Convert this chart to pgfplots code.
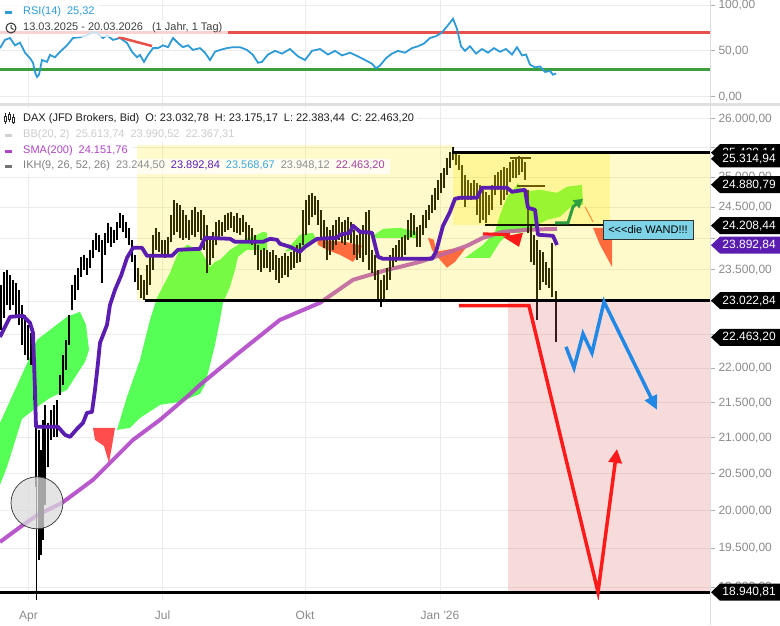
\documentclass[border=0pt]{standalone}
\usepackage{fontspec}
\setmainfont{Liberation Sans}
\usepackage{pgfplots}
\usepackage{pgfplotstable}
\pgfplotsset{compat=1.18}
\usetikzlibrary{arrows.meta}

\definecolor{cloudgreen}{HTML}{55FF55}
\definecolor{cloudred}{HTML}{FF4C4C}
\definecolor{purpleline}{HTML}{5B1DB0}
\definecolor{smacol}{HTML}{B046C6}
\definecolor{rsiblue}{HTML}{2E9BD6}
\definecolor{rsired}{HTML}{E8504A}
\definecolor{rsigreen}{HTML}{3C9E3C}
\definecolor{zoneyellow}{HTML}{FFE800}
\definecolor{zonepink}{HTML}{E07070}
\definecolor{redline}{HTML}{FF1A1A}
\definecolor{blueline}{HTML}{2288E6}
\definecolor{greenarrow}{HTML}{2E9E40}
\definecolor{wandbox}{HTML}{7ED3E6}
\definecolor{ticktext}{HTML}{8A8A8A}
\definecolor{gridcol}{HTML}{EBEBEB}
\definecolor{olive}{HTML}{6B5A00}
\definecolor{ikhblue}{HTML}{3AA7D8}
\definecolor{ikhmauve}{HTML}{A2409A}

\newcommand{\lgfont}{\fontsize{11}{13}\selectfont}
\newcommand{\tkfont}{\fontsize{12}{14}\selectfont}

% price tag on the right scale
\newcommand{\pricetag}[3]{%
  \fill[#2] ([xshift=1pt]#1) -- ([xshift=10pt,yshift=8.5pt]#1) -- ([xshift=70pt,yshift=8.5pt]#1)
    -- ([xshift=70pt,yshift=-8.5pt]#1) -- ([xshift=10pt,yshift=-8.5pt]#1) -- cycle;
  \node[anchor=east, text=white, inner sep=0pt, font=\tkfont] at ([xshift=66pt]#1) {#3};}

% daily candles: x position, low, high
\pgfplotstableread{
x lo hi
1 22573 23264
4 22756 23468
7 22955 23499
10 22878 23420
13 22955 23342
16 22756 23295
19 22649 23186
22 22348 22955
25 22199 22802
28 22124 22649
31 22051 22528
34 21539 22348
36 20320 21539
39 19351 21111
41 19416 20830
43 19612 21253
45 20077 21468
48 20594 21210
51 20970 21396
54 21012 21468
57 21012 21539
60 21612 21904
63 21757 22199
66 21977 22423
69 22348 22802
72 22878 23264
75 23032 23420
78 23186 23531
81 23389 23705
84 23499 23736
87 23420 23689
90 23531 23816
93 23689 23976
96 23816 24089
99 23784 24057
102 23295 23976
105 23736 24089
108 23928 24250
111 23864 24186
114 23928 24137
117 23976 24267
120 24169 24414
123 24105 24381
126 24008 24267
129 23896 24169
132 23625 23976
135 23311 23736
138 23186 23531
141 23063 23420
144 23032 23342
147 23109 23578
150 23264 23736
153 23499 24057
156 23816 24169
159 23784 24105
162 23705 23976
165 23689 23976
168 23736 24024
171 23944 24381
174 24057 24627
177 24105 24578
180 24008 24545
183 23976 24463
186 24008 24381
189 23976 24299
192 24057 24463
195 24024 24512
198 24105 24430
201 23976 24463
204 23816 24381
207 23452 24218
210 23578 24024
213 23689 24105
216 23896 24267
219 24008 24299
222 24040 24267
225 24105 24381
228 24137 24414
231 24169 24430
234 24105 24365
237 24089 24414
240 24057 24332
243 24105 24381
246 23976 24267
249 23976 24218
252 23896 24169
255 23736 24057
258 23499 23896
261 23468 23816
264 23531 23848
267 23531 23816
270 23468 23784
273 23499 23816
276 23342 23736
279 23295 23689
282 23373 23721
285 23420 23768
288 23389 23721
291 23499 23784
294 23531 23816
297 23610 23896
300 23625 23928
303 23896 24463
306 24057 24627
309 24218 24710
312 24348 24743
315 24381 24694
318 24218 24627
321 23976 24463
324 23848 24299
327 23657 24186
330 23736 24137
333 23816 24218
336 23896 24299
339 23976 24348
342 23928 24267
345 23896 24299
348 23976 24348
351 23928 24267
354 23736 24137
357 23657 24057
360 23689 24105
363 23625 24218
366 23736 24430
369 23499 24463
372 23452 23816
375 23342 23736
378 23032 23499
381 22924 23342
384 23032 23420
387 23186 23531
390 23342 23736
393 23547 23848
396 23625 23896
399 23657 23976
402 23705 24024
405 23736 24057
408 23976 24299
411 24024 24414
414 24057 24381
417 23864 24186
420 23864 24218
423 24057 24381
426 24169 24463
429 24299 24545
432 24414 24710
435 24463 24826
438 24627 24959
441 24743 25076
444 24826 25161
447 25043 25330
450 25161 25432
453 25296 25508
456 25211 25415
459 25127 25381
462 24627 25211
465 24512 25043
468 24627 24959
471 24627 24909
474 24660 24959
477 24381 24909
480 24250 24876
483 24299 24793
486 24250 24760
489 24381 24710
492 24463 24876
495 24710 25043
498 24793 25093
501 24545 25127
504 24627 25178
507 24710 25161
510 24926 25262
513 24993 25296
516 24993 25330
519 25043 25364
522 25093 25330
525 24959 25262
528 24089 24793
531 23625 24218
534 23578 24057
537 22725 23976
540 23186 23816
543 23311 23784
546 23264 23625
549 23217 23531
552 23078 23928
556 22383.44 23175.17
}\candles

\pgfplotstableread{
x y
0 53
5 62
10 64
15 56
20 59
25 48
30 42
33 37
35 27
37 21.5
39 24
42 40
47 38
50 45.5
55 43
60 49
67 56
73 64
80 65
87 67
93 70.6
97 69.5
103 64
107 67
113 62
120 64
127 58.6
132 49
137 43
140 45.5
144 38
148 45.5
153 53
158 53
163 56
168 54
173 64
178 58.6
183 54
188 56
193 51
200 53
205 48
210 40
215 49
220 51
227 53
233 54
240 54
247 51
253 45.5
258 37
262 38
268 46
275 50
282 47
290 52
298 44
305 40
312 50
320 52
328 46
335 50
342 45
350 48
358 44
365 40
372 36
376 31
380 34
386 42
392 47
398 50
405 48
412 53
418 55
424 58
430 64
436 66
442 70
448 78
453 85
457 74
461 55
465 50
470 55
476 47
482 52
488 48
494 53
500 49
506 52
512 46
517 54
522 45
526 46
530 35
535 32
540 33
545 27
550 28
553 24
556 25.32
}\rsi

\begin{document}
\begin{tikzpicture}
\useasboundingbox (0pt,0pt) rectangle (780pt,-625pt);

% ---------------- RSI panel ----------------
\begin{axis}[
  at={(0pt,0pt)}, anchor=north west,
  scale only axis, width=710pt, height=103pt,
  xmin=0, xmax=710, ymin=-6.87, ymax=105.45,
  axis line style={draw=none},
  xtick={28.5,162.5,305,440}, xticklabels={}, xtick style={draw=none},
  ytick={0,50,100}, yticklabels={{0,00},{50,00},{100,00}},
  ytick pos=right, yticklabel pos=right,
  tick align=outside, major tick length=5pt,
  ytick style={draw=ticktext!70, line width=0.8pt},
  yticklabel style={font=\tkfont, text=ticktext},
  grid=major, major grid style={draw=gridcol, line width=0.8pt},
]
\addplot[rsired, line width=3pt] coordinates {(0,70) (710,70)};
\addplot[rsigreen, line width=3pt] coordinates {(0,30) (710,30)};
\addplot[rsiblue, line width=1.8pt] table[x=x, y=y] {\rsi};
\addplot[rsired, line width=2.5pt] coordinates {(118,65.1) (152,55.3)};
\end{axis}

% ---------------- price panel ----------------
\begin{axis}[
  at={(0pt,-106pt)}, anchor=north west,
  scale only axis, width=710pt, height=494pt,
  xmin=0, xmax=710,
  ymode=log, ymin=18840, ymax=26227,
  axis line style={draw=none},
  xtick={28.5,162.5,305,440},
  xticklabels={Apr,Jul,Okt,{Jan '26}},
  xtick style={draw=none},
  xticklabel style={font=\tkfont, text=ticktext, yshift=-3pt},
  ytick={19000,19500,20000,20500,21000,21500,22000,22500,23000,23500,24000,24500,25000,25500,26000},
  yticklabels={{19.000,00},{19.500,00},{20.000,00},{20.500,00},{21.000,00},{21.500,00},{22.000,00},{},{},{23.500,00},{},{24.500,00},{25.000,00},{},{26.000,00}},
  ytick pos=right, yticklabel pos=right,
  tick align=outside, major tick length=5pt,
  ytick style={draw=ticktext!70, line width=0.8pt},
  yticklabel style={font=\tkfont, text=ticktext},
  grid=major, major grid style={draw=gridcol, line width=0.8pt},
]
% Ichimoku cloud, green parts
\addplot[fill=cloudgreen, draw=none] coordinates {
  (0,21210) (30,22169) (37,22423) (50,22573) (67,22771) (80,22848) (86,22649) (89,22273)
  (85,22095) (67,21684) (50,21568) (40,21468) (22,21267) (7,20594) (0,20348)} -- cycle;
\addplot[fill=cloudgreen, draw=none] coordinates {
  (117,21111) (127,21583) (140,22124) (150,22725) (157,23063) (170,23452) (178,23768) (187,23896)
  (192,23864) (200,23816) (205,23689) (210,23546) (215,23625) (220,23657) (230,23816) (238,23896)
  (247,24008) (253,24024) (263,24105) (267,24089) (267,23816) (247,23816) (238,23705) (235,23499)
  (230,23233) (223,22986) (220,22725) (215,22348) (210,22051) (205,21757) (200,21626) (180,21510)
  (160,21468) (140,21281) (130,21139)} -- cycle;
\addplot[fill=cloudgreen, draw=none] coordinates {
  (285,23784) (300,24057) (313,24089) (317,23960) (305,23848)} -- cycle;
\addplot[fill=cloudgreen, draw=none] coordinates {
  (373,24040) (383,24153) (400,24169) (417,24105) (417,24008) (373,24008)} -- cycle;
\addplot[fill=cloudgreen, draw=none] coordinates {
  (465,23689) (483,23896) (495,24105) (500,24381) (507,24676) (515,24826) (518,24909) (523,24760)
  (540,24793) (557,24743) (567,24843) (582,24876) (583,24545) (573,24545) (560,24348) (547,24299)
  (538,24218) (533,24137) (520,24089) (510,24089) (500,23944) (490,23689)} -- cycle;
% Ichimoku cloud, red parts
\addplot[fill=cloudred, draw=none] coordinates {
  (93,21139) (115,21139) (112,20885) (109,20650) (104,20885) (95,20970)} -- cycle;
\addplot[fill=cloudred, draw=none] coordinates {
  (317,23976) (345,23944) (362,23880) (358,23736) (353,23625) (340,23736) (327,23816) (318,23896)} -- cycle;
\addplot[fill=cloudred, draw=none] coordinates {
  (428,24008) (434,23976) (436,23784) (452,23832) (466,23848) (455,23625) (447,23531) (440,23657) (432,23816)} -- cycle;
\addplot[fill=cloudred, draw=none] coordinates {
  (593,24169) (612,24169) (612,23546) (600,23896)} -- cycle;
\addplot[cloudred, line width=1pt] coordinates {(585,24512) (593,24267)};
% SMA(200)
\addplot[smacol, line width=4pt, opacity=0.9] coordinates {
  (0,19586) (20,19783) (37,19943) (62,20104) (93,20416) (113,20691) (133,20970) (160,21253)
  (187,21583) (200,21757) (240,22243) (280,22725) (320,22986) (353,23342) (387,23499) (400,23546)
  (420,23625) (450,23784) (467,23880) (483,24008) (503,24105) (530,24140) (557,24151.76)};
% candles (high-low ranges)
\addplot[draw=none, mark=none, error bars/.cd, y dir=plus, y explicit, error mark=none,
  error bar style={line width=2.1pt, draw=black, solid}]
  table[x=x, y=lo, y error plus expr=\thisrow{hi}-\thisrow{lo}] {\candles};
\addplot[black, line width=1pt] coordinates {(37,18489) (37,21539)};
% zones
\addplot[fill=zoneyellow, fill opacity=0.2, draw=none] coordinates {
  (137,25551) (453,25551) (453,23022.84) (137,23022.84)} -- cycle;
\addplot[fill=zoneyellow, fill opacity=0.2, draw=none] coordinates {
  (453,25420.14) (710,25420.14) (710,23022.84) (453,23022.84)} -- cycle;
\addplot[fill=zoneyellow, fill opacity=0.25, draw=none] coordinates {
  (453,25420.14) (610,25420.14) (610,24208.44) (453,24208.44)} -- cycle;
\addplot[fill=zonepink, fill opacity=0.25, draw=none] coordinates {
  (508,23022.84) (710,23022.84) (710,18940.81) (508,18940.81)} -- cycle;
% horizontal levels
\addplot[black, line width=3pt] coordinates {(452,25420.14) (710,25420.14)};
\addplot[black, line width=3pt] coordinates {(145,23022.84) (710,23022.84)};
\addplot[black, line width=3pt] coordinates {(0,18940.81) (710,18940.81)};
\addplot[black!80!olive, line width=2pt] coordinates {(485,24208.44) (610,24208.44)};
\addplot[olive, line width=2.5pt] coordinates {(510,25330) (531,25330)};
\addplot[olive, line width=2.5pt] coordinates {(517,24860) (545,24860)};
% Ichimoku line
\addplot[purpleline, line width=3.8pt, line join=round] coordinates {
  (0,22467) (10,22771) (23,22786) (30,22679) (33,22528) (35,21684) (36,21154) (58,21154)
  (65,21041) (70,21012) (77,21125) (83,21210) (87,21353) (92,21367) (95,21684) (98,22080)
  (100,22378) (107,22649) (110,22955) (115,23186) (121,23405) (127,23689) (133,23848) (142,23848)
  (147,23721) (172,23721) (178,23816) (200,23832) (205,24008) (230,23992) (235,23944) (263,23944)
  (270,23992) (277,23976) (280,23912) (290,23864) (300,23784) (305,23864) (317,23992) (337,24008)
  (340,24057) (350,24089) (353,24202) (360,24105) (372,24089) (373,24024) (378,23705) (383,23673)
  (432,23673) (436,23784) (440,24024) (443,24202) (450,24430) (455,24643) (460,24660) (477,24660)
  (482,24826) (507,24826) (512,24760) (525,24793) (528,24496) (535,24463) (538,24057) (553,24040)
  (557,23892.84)};
% scenario arrows
\addplot[redline, line width=3.5pt, line join=miter, -{Triangle[length=14pt,width=13pt]}] coordinates {
  (459,22940) (529,22940) (598,18940.81) (617,20844)};
\addplot[blueline, line width=3.5pt, line join=miter, -{Triangle[length=14pt,width=13pt]}] coordinates {
  (566,22318) (574,22006) (583,22513) (592,22228) (604,23001) (657,21396)};
\addplot[greenarrow, line width=3pt, -{Triangle[length=9pt,width=10pt]}] coordinates {
  (555,24250) (568,24250) (573,24512) (583,24643)};
\addplot[redline, line width=3pt] coordinates {(483,24073) (510,24057)};
\addplot[fill=redline, draw=none] coordinates {(503,24024) (523,24089) (519,23864)} -- cycle;
% annotations
\draw[black!80, fill=black!14, fill opacity=0.75, line width=0.7pt] (axis cs:37,20104) circle[radius=26pt];
\node[draw=black!80, fill=wandbox, line width=0.8pt, minimum width=90pt, minimum height=19pt,
  inner sep=1pt, font=\lgfont] at (axis cs:648,24137) {<{}<{}<die WAND!!!};
% anchors for price tags
\coordinate (tA) at (axis cs:710,25420.14);
\coordinate (tB) at (axis cs:710,25314.94);
\coordinate (tC) at (axis cs:710,24880.79);
\coordinate (tD) at (axis cs:710,24208.44);
\coordinate (tE) at (axis cs:710,23892.84);
\coordinate (tF) at (axis cs:710,23022.84);
\coordinate (tG) at (axis cs:710,22463.20);
\coordinate (tH) at (axis cs:710,18940.81);
\end{axis}

% panel separators
\fill[black!12] (0pt,-102.5pt) rectangle (780pt,-105.5pt);
\draw[black!13, line width=1.2pt] (710.5pt,0pt) -- (710.5pt,-625pt);

% RSI legend
\fill[white, fill opacity=0.75] (0pt,-4pt) rectangle (100pt,-20pt);
\fill[rsiblue] (5pt,-10.5pt) rectangle (12pt,-13.5pt);
\node[anchor=west, inner sep=0pt, font=\lgfont, text=rsiblue] at (23pt,-12pt) {RSI(14)\hspace{6pt}25,32};
\fill[white, fill opacity=0.75] (0pt,-20pt) rectangle (228pt,-37pt);
\draw[black!80, line width=1pt] (11pt,-28pt) circle[radius=5pt];
\draw[black!80, line width=1pt] (11pt,-25pt) -- (11pt,-28pt) -- (13.5pt,-29.5pt);
\node[anchor=west, inner sep=0pt, font=\lgfont, text=black!75] at (23pt,-28pt)
  {13.03.2025 - 20.03.2026\hspace{9pt}(1 Jahr, 1 Tag)};

% price legend
\fill[white, fill opacity=0.75] (0pt,-108pt) rectangle (418pt,-127pt);
\fill[white, fill opacity=0.75] (0pt,-127pt) rectangle (236pt,-143pt);
\fill[white, fill opacity=0.75] (0pt,-143pt) rectangle (132pt,-159pt);
\fill[white, fill opacity=0.75] (0pt,-159pt) rectangle (390pt,-174pt);
\draw[black!85, line width=0.8pt] (5pt,-113pt) -- (5pt,-124pt) (9pt,-112pt) -- (9pt,-122pt) (13pt,-114pt) -- (13pt,-124pt);
\draw[black!85, line width=0.8pt, fill=white] (4pt,-116pt) rectangle (6pt,-121pt) (8pt,-114pt) rectangle (10pt,-119pt) (12pt,-117pt) rectangle (14pt,-122pt);
\node[anchor=west, inner sep=0pt, font=\lgfont, text=black!88] at (23pt,-118.5pt)
  {DAX (JFD Brokers, Bid)\hspace{6pt}O: 23.032,78\hspace{6pt}H: 23.175,17\hspace{6pt}L: 22.383,44\hspace{6pt}C: 22.463,20};
\fill[black!18] (5pt,-133.5pt) rectangle (12pt,-136.5pt);
\node[anchor=west, inner sep=0pt, font=\lgfont, text=black!20] at (23pt,-135pt)
  {BB(20, 2)\hspace{6pt}25.613,74\hspace{6pt}23.990,52\hspace{6pt}22.367,31};
\fill[smacol] (5pt,-149.5pt) rectangle (12pt,-152.5pt);
\node[anchor=west, inner sep=0pt, font=\lgfont, text=smacol] at (23pt,-151pt) {SMA(200)\hspace{6pt}24.151,76};
\fill[black!55] (5pt,-164.5pt) rectangle (12pt,-167.5pt);
\node[anchor=west, inner sep=0pt, font=\lgfont] at (23pt,-166pt)
  {\textcolor{black!50}{IKH(9, 26, 52, 26)}\hspace{6pt}\textcolor{black!45}{23.244,50}\hspace{6pt}\textcolor{purpleline}{23.892,84}\hspace{6pt}\textcolor{ikhblue}{23.568,67}\hspace{6pt}\textcolor{black!45}{23.948,12}\hspace{6pt}\textcolor{ikhmauve}{22.463,20}};

% price tags
\pricetag{tA}{black}{25.420,14}
\pricetag{tB}{black}{25.314,94}
\pricetag{tC}{black}{24.880,79}
\pricetag{tD}{black}{24.208,44}
\pricetag{tE}{purpleline}{23.892,84}
\pricetag{tF}{black}{23.022,84}
\pricetag{tG}{black}{22.463,20}
\pricetag{tH}{black}{18.940,81}
\end{tikzpicture}
\end{document}
